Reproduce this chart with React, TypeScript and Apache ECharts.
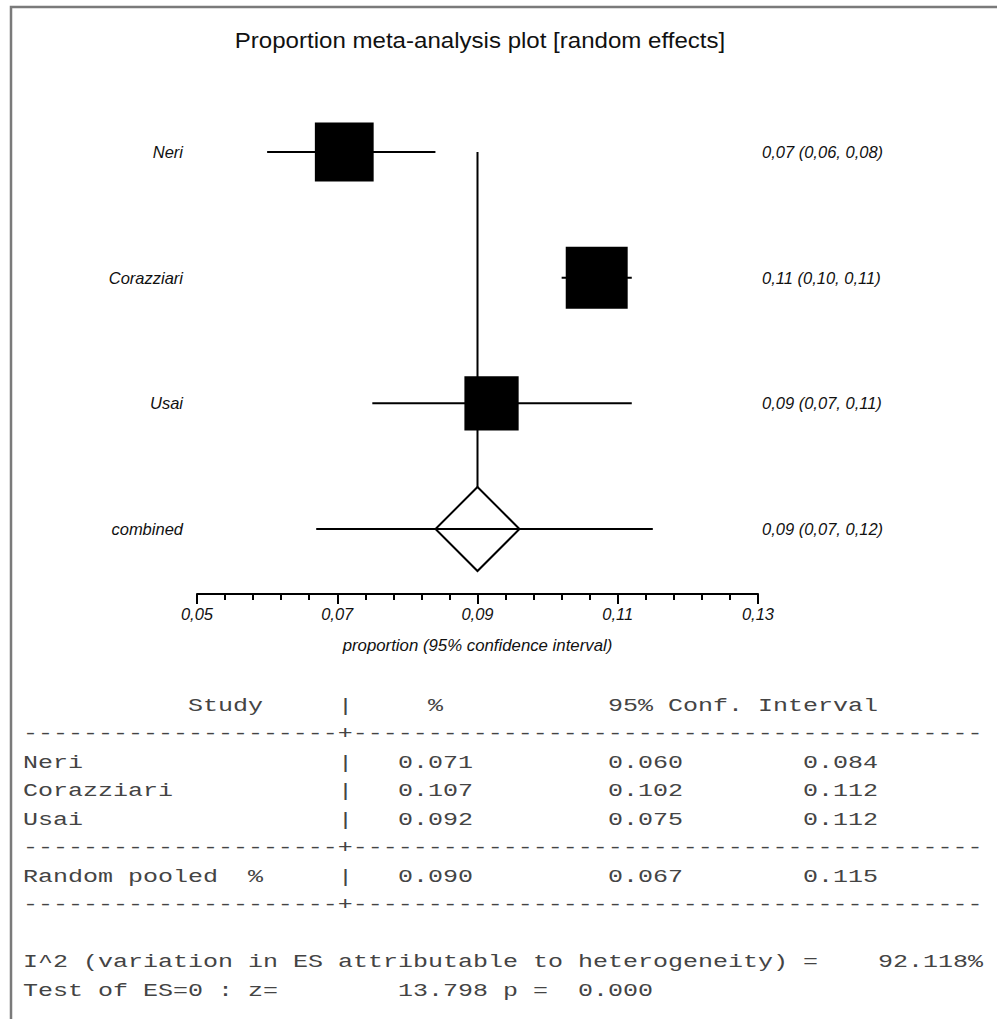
import React, { useEffect, useRef } from "react";
import * as echarts from "echarts";

// ---------- data ----------
const chartTitle = "Proportion meta-analysis plot [random effects]";
const xAxisTitle = "proportion (95% confidence interval)";
const studies = ["Neri", "Corazziari", "Usai"];
const estimates = [0.071, 0.107, 0.092];
const lowerCI = [0.06, 0.102, 0.075];
const upperCI = [0.084, 0.112, 0.112];
const weights = [33.6, 35.4, 31.0]; // relative weight (%), drives box size
const pooledName = "combined";
const pooledEstimate = 0.09;
const pooledLower = 0.067;
const pooledUpper = 0.115;
const heterogeneityI2 = 92.118;
const zValue = 13.798;
const pValue = 0.0;
const xMin = 0.05;
const xMax = 0.13;
const xStep = 0.02;

// ---------- styles ----------
const SANS = "'Liberation Sans', Arial, Helvetica, sans-serif";
const MONO = "'Liberation Mono', 'Courier New', monospace";
const LABEL_SIZE = 16.5;
const MONO_SIZE = 19;
const CELL = 15; // px per monospace character in the reference
const MONO_SCALE = CELL / (MONO_SIZE * 0.6);

const fmt2 = (v: number) => v.toFixed(2).replace(".", ",");
const ciLabel = (e: number, l: number, u: number) => `${fmt2(e)} (${fmt2(l)}, ${fmt2(u)})`;

function buildTable(): string[] {
  const dashes = "-".repeat(21) + "+" + "-".repeat(42);
  const row = (name: string, e: number, l: number, u: number) =>
    name.padEnd(21) + "|" + "   " + e.toFixed(3) + " ".repeat(9) + l.toFixed(3) + " ".repeat(8) + u.toFixed(3);
  return [
    " ".repeat(11) + "Study" + " ".repeat(5) + "|" + " ".repeat(5) + "%" + " ".repeat(11) + "95% Conf. Interval",
    dashes,
    ...studies.map((s, i) => row(s, estimates[i], lowerCI[i], upperCI[i])),
    dashes,
    row("Random pooled  %", pooledEstimate, pooledLower, pooledUpper),
    dashes,
    "",
    "I^2 (variation in ES attributable to heterogeneity) =" + "    " + heterogeneityI2.toFixed(3) + "%",
    "Test of ES=0 : z=" + " ".repeat(8) + zValue.toFixed(3) + " p =" + "  " + pValue.toFixed(3),
  ];
}

function tableGraphics(): any[] {
  const lines = buildTable();
  const out: any[] = [];
  const x0 = 23;
  const y0 = 706;
  const lh = 28.5;
  lines.forEach((line, li) => {
    const re = /\S+/g;
    let m: RegExpExecArray | null;
    while ((m = re.exec(line)) !== null) {
      out.push({
        type: "text",
        x: x0 + m.index * CELL,
        y: y0 + li * lh,
        scaleX: MONO_SCALE,
        style: {
          text: m[0],
          fontFamily: MONO,
          fontSize: MONO_SIZE,
          fill: "#444",
          align: "left",
          verticalAlign: "middle",
        },
      });
    }
  });
  return out;
}

export default function App() {
  const ref = useRef<HTMLDivElement>(null);

  useEffect(() => {
    if (!ref.current) return;
    const chart = echarts.init(ref.current, null, { renderer: "svg", width: 997, height: 1019 });

    const textStyle = (text: string, align: string) => ({
      text,
      align,
      verticalAlign: "middle",
      fontSize: LABEL_SIZE,
      fontStyle: "italic",
      fontFamily: SANS,
      fill: "#111",
    });

    const option: any = {
      animation: false,
      backgroundColor: "#fff",
      grid: { left: 197, right: 239, top: 152, height: 377, outerBoundsMode: "none" },
      xAxis: {
        type: "value",
        min: xMin,
        max: xMax,
        interval: xStep,
        offset: 65,
        name: xAxisTitle,
        nameLocation: "middle",
        nameGap: 43,
        nameTextStyle: { fontSize: 16.8, fontStyle: "italic", fontFamily: SANS, color: "#111" },
        axisLine: { show: true, onZero: false, lineStyle: { color: "#000", width: 2 } },
        axisTick: { show: true, length: 10, lineStyle: { color: "#000", width: 2 } },
        minorTick: { show: true, splitNumber: 5, length: 6, lineStyle: { color: "#000", width: 2 } },
        splitLine: { show: false },
        axisLabel: {
          margin: 11,
          fontSize: 16.5,
          fontStyle: "italic",
          fontFamily: SANS,
          color: "#111",
          formatter: (v: number) => fmt2(v),
        },
      },
      yAxis: { type: "value", min: 0, max: 3, inverse: true, show: false },
      graphic: [
        {
          type: "polyline",
          shape: { points: [[11, 1019], [11, 7], [997, 7]] },
          style: { stroke: "#7a7a7a", lineWidth: 2.5, fill: null },
        },
        {
          type: "text",
          x: 480,
          y: 40,
          scaleX: 1.12,
          style: {
            text: chartTitle,
            align: "center",
            verticalAlign: "middle",
            fontSize: 21.5,
            fontFamily: SANS,
            fill: "#111",
          },
        },
        ...tableGraphics(),
      ],
      series: [
        {
          type: "custom",
          name: "studies",
          clip: false,
          data: studies.map((_, i) => [estimates[i], lowerCI[i], upperCI[i], i, weights[i]]),
          renderItem: (params: any, api: any) => {
            const i = params.dataIndex;
            const est = api.value(0);
            const lo = api.value(1);
            const hi = api.value(2);
            const row = api.value(3);
            const w = api.value(4);
            const [cx, cy] = api.coord([est, row]);
            const xl = api.coord([lo, row])[0];
            const xh = api.coord([hi, row])[0];
            const leftEdge = api.coord([xMin, row])[0];
            const rightEdge = api.coord([xMax, row])[0];
            const side = w * 1.75;
            return {
              type: "group",
              children: [
                { type: "line", shape: { x1: xl, y1: cy, x2: xh, y2: cy }, style: { stroke: "#000", lineWidth: 2 } },
                {
                  type: "rect",
                  shape: { x: cx - side / 2, y: cy - side / 2, width: side, height: side },
                  style: { fill: "#000" },
                },
                { type: "text", x: leftEdge - 14, y: cy, style: textStyle(studies[i], "right") },
                { type: "text", x: rightEdge + 4, y: cy, style: textStyle(ciLabel(est, lo, hi), "left") },
              ],
            };
          },
        },
        {
          type: "custom",
          name: "pooled",
          clip: false,
          data: [[pooledEstimate, pooledLower, pooledUpper, studies.length]],
          renderItem: (params: any, api: any) => {
            const est = api.value(0);
            const lo = api.value(1);
            const hi = api.value(2);
            const row = api.value(3);
            const [cx, cy] = api.coord([est, row]);
            const topY = api.coord([est, 0])[1];
            const xl = api.coord([lo, row])[0];
            const xh = api.coord([hi, row])[0];
            const leftEdge = api.coord([xMin, row])[0];
            const rightEdge = api.coord([xMax, row])[0];
            const half = 42;
            return {
              type: "group",
              children: [
                {
                  type: "line",
                  shape: { x1: cx, y1: topY, x2: cx, y2: cy - half },
                  style: { stroke: "#000", lineWidth: 2 },
                },
                {
                  type: "polygon",
                  shape: {
                    points: [
                      [cx, cy - half],
                      [cx + half, cy],
                      [cx, cy + half],
                      [cx - half, cy],
                    ],
                  },
                  style: { fill: "#fff", stroke: "#000", lineWidth: 2 },
                },
                { type: "line", shape: { x1: xl, y1: cy, x2: xh, y2: cy }, style: { stroke: "#000", lineWidth: 2 } },
                { type: "text", x: leftEdge - 14, y: cy, style: textStyle(pooledName, "right") },
                { type: "text", x: rightEdge + 4, y: cy, style: textStyle(ciLabel(est, lo, hi), "left") },
              ],
            };
          },
        },
      ],
    };

    chart.setOption(option);
    return () => chart.dispose();
  }, []);

  return (
    <div
      ref={ref}
      style={{ position: "fixed", left: 0, top: 0, width: 997, height: 1019, background: "#fff" }}
    />
  );
}
